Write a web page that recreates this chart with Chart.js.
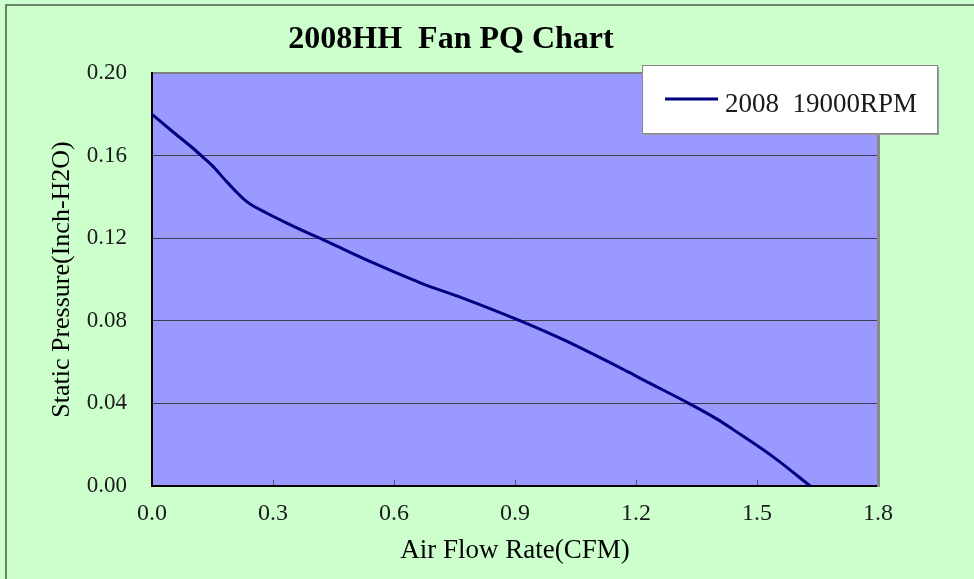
<!DOCTYPE html>
<html>
<head>
<meta charset="utf-8">
<script src="https://cdn.jsdelivr.net/npm/chart.js@4.4.1/dist/chart.umd.min.js"></script>
<style>
  html, body { margin: 0; padding: 0; background: #CCFFCC; }
  canvas { display: block; }
</style>
</head>
<body>
<canvas id="c" width="974" height="579"></canvas>
<script>
// ---- data ----
const chartTitle = '2008HH  Fan PQ Chart';
const seriesLabel = '2008  19000RPM';
const xTitle = 'Air Flow Rate(CFM)';
const yTitle = 'Static Pressure(Inch-H2O)';
const airflow  = [0.000, 0.050, 0.100, 0.122, 0.150, 0.185, 0.235, 0.284, 0.342, 0.441, 0.549, 0.665, 0.772, 0.912, 1.016, 1.177, 1.218, 1.332, 1.400, 1.441, 1.541, 1.632];
const pressure = [0.1800, 0.1718, 0.1638, 0.1600, 0.1550, 0.1474, 0.1377, 0.1322, 0.1266, 0.1177, 0.1080, 0.0984, 0.0909, 0.0801, 0.0712, 0.0556, 0.0514, 0.0399, 0.0325, 0.0273, 0.0140, 0.0000];
const xTicks = [0.0, 0.3, 0.6, 0.9, 1.2, 1.5, 1.8];
const yTicks = [0.00, 0.04, 0.08, 0.12, 0.16, 0.20];

const points = airflow.map((x, i) => ({ x: x, y: pressure[i] }));

const bgPlugin = {
  id: 'bg',
  beforeDraw(chart) {
    const { ctx, chartArea: a, width, height } = chart;
    ctx.save();
    ctx.fillStyle = '#CCFFCC';
    ctx.fillRect(0, 0, width, height);
    ctx.fillStyle = '#9999FF';
    ctx.fillRect(a.left, a.top, a.right - a.left, a.bottom - a.top);
    ctx.strokeStyle = '#4a5a4a';
    ctx.lineWidth = 1.5;
    ctx.beginPath();
    ctx.moveTo(6, height);
    ctx.lineTo(6, 5);
    ctx.lineTo(width, 5);
    ctx.stroke();
    ctx.restore();
  }
};

const legendPlugin = {
  id: 'boxLegend',
  afterDraw(chart) {
    const { ctx, chartArea: a } = chart;
    const ds = chart.data.datasets[0];
    const left = a.right - 236, top = a.top - 8, w = 295, h = 68;
    ctx.save();
    ctx.fillStyle = '#9a9a9a';
    ctx.fillRect(left + 2, top + 2, w, h);
    ctx.fillStyle = '#FFFFFF';
    ctx.fillRect(left, top, w, h);
    ctx.strokeStyle = '#888888';
    ctx.lineWidth = 1;
    ctx.strokeRect(left + 0.5, top + 0.5, w, h);
    ctx.strokeStyle = ds.borderColor;
    ctx.lineWidth = 3;
    ctx.beginPath();
    ctx.moveTo(left + 23, top + 34);
    ctx.lineTo(left + 76, top + 34);
    ctx.stroke();
    ctx.fillStyle = '#1a1a1a';
    ctx.font = '27px "Liberation Serif", "Times New Roman", serif';
    ctx.textBaseline = 'alphabetic';
    ctx.textAlign = 'left';
    ctx.fillText(ds.label, left + 83, top + 47);
    ctx.restore();
  }
};

new Chart(document.getElementById('c'), {
  type: 'line',
  data: {
    datasets: [{
      label: seriesLabel,
      data: points,
      borderColor: '#000080',
      backgroundColor: '#000080',
      borderWidth: 3,
      pointRadius: 0,
      cubicInterpolationMode: 'monotone',
      fill: false,
      clip: false
    }]
  },
  options: {
    responsive: false,
    devicePixelRatio: 1,
    animation: false,
    layout: { padding: { left: 0, right: 72, top: 0, bottom: 0 } },
    plugins: {
      legend: { display: false },
      tooltip: { enabled: false },
      title: {
        display: true,
        text: chartTitle,
        color: '#000',
        font: { family: '"Liberation Serif", "Times New Roman", serif', size: 32, weight: 'bold', lineHeight: 1.2 },
        padding: { top: 21, bottom: 13.6 }
      }
    },
    scales: {
      x: {
        type: 'linear',
        position: 'bottom',
        min: xTicks[0],
        max: xTicks[xTicks.length - 1],
        afterBuildTicks(scale) { scale.ticks = xTicks.map(v => ({ value: v })); },
        afterFit(scale) { scale.height = 93; },
        ticks: {
          callback: v => Number(v).toFixed(1),
          color: '#1a1a1a',
          font: { family: '"Liberation Serif", "Times New Roman", serif', size: 24 },
          padding: 19,
          maxRotation: 0
        },
        grid: {
          drawOnChartArea: false,
          drawTicks: true,
          tickLength: -6,
          color: '#555577',
          lineWidth: 1
        },
        border: { display: true, color: '#000', width: 2 },
        title: {
          display: true,
          text: xTitle,
          color: '#000',
          font: { family: '"Liberation Serif", "Times New Roman", serif', size: 27, lineHeight: 1.2 },
          padding: { top: 0, bottom: 11.8 }
        }
      },
      y: {
        type: 'linear',
        position: 'left',
        min: yTicks[0],
        max: yTicks[yTicks.length - 1],
        afterBuildTicks(scale) { scale.ticks = yTicks.map(v => ({ value: v })); },
        afterFit(scale) { scale.width = 152; },
        ticks: {
          callback: v => Number(v).toFixed(2),
          color: '#1a1a1a',
          font: { family: '"Liberation Serif", "Times New Roman", serif', size: 23 },
          padding: 25
        },
        grid: {
          drawTicks: false,
          color: ctx => {
            const v = ctx.tick ? ctx.tick.value : null;
            if (v === yTicks[0]) return 'rgba(0,0,0,0)';
            if (v === yTicks[yTicks.length - 1]) return '#808080';
            return '#3c3c50';
          },
          lineWidth: ctx => (ctx.tick && ctx.tick.value === yTicks[yTicks.length - 1]) ? 2 : 1
        },
        border: { display: true, color: '#000', width: 2 },
        title: {
          display: true,
          text: yTitle,
          color: '#000',
          font: { family: '"Liberation Serif", "Times New Roman", serif', size: 26, lineHeight: 1.2 },
          padding: { top: 46.4, bottom: 0 }
        }
      },
      y2: {
        type: 'linear',
        position: 'right',
        min: 0, max: 0.2,
        afterFit(scale) { scale.width = 24; },
        ticks: { display: false },
        grid: { display: false, drawOnChartArea: false, drawTicks: false },
        border: { display: true, color: '#8a8a8a', width: 3 }
      }
    }
  },
  plugins: [bgPlugin, legendPlugin]
});
</script>
</body>
</html>
